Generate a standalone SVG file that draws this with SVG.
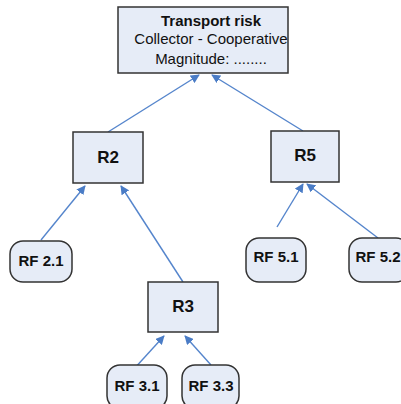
<svg xmlns="http://www.w3.org/2000/svg" width="401" height="404" viewBox="0 0 401 404">
<defs>
<style>
.box{fill:#E6ECF7;stroke:#333333;stroke-width:1.5}
.t{font-family:"Liberation Sans",Arial,sans-serif;fill:#111;text-anchor:middle}
.b{font-weight:bold}
.c{stroke:#5585CC;stroke-width:1.4;fill:none;marker-end:url(#ah)}
</style>
<marker id="ah" viewBox="0 0 10 10" refX="9" refY="5" markerWidth="9" markerHeight="9" markerUnits="userSpaceOnUse" orient="auto">
<path d="M0,0 L10,5 L0,10 z" fill="#4A7CC6"/>
</marker>
</defs>
<rect width="401" height="404" fill="#ffffff"/>
<g id="connectors">
<line class="c" x1="108" y1="132" x2="199" y2="75"/>
<line class="c" x1="303" y1="131" x2="212" y2="75"/>
<line class="c" x1="41" y1="240" x2="85" y2="186"/>
<line class="c" x1="183" y1="282" x2="121" y2="186"/>
<line class="c" x1="277" y1="227" x2="303" y2="184"/>
<line class="c" x1="378" y1="238" x2="307" y2="184"/>
<line class="c" x1="133" y1="370" x2="164" y2="336"/>
<line class="c" x1="211" y1="365" x2="185" y2="336"/>
</g>
<g id="transport-risk">
<rect class="box" x="118" y="7" width="170" height="66"/>
<text class="t b" x="211" y="26" font-size="15">Transport risk</text>
<text class="t" x="211" y="44" font-size="15">Collector - Cooperative</text>
<text class="t" x="211" y="64" font-size="15">Magnitude: ........</text>
</g>
<g id="R2">
<rect class="box" x="73" y="132" width="70" height="51"/>
<text class="t b" x="108" y="163" font-size="17">R2</text>
</g>
<g id="R5">
<rect class="box" x="271" y="131" width="68" height="51"/>
<text class="t b" x="305" y="161" font-size="17">R5</text>
</g>
<g id="R3">
<rect class="box" x="148" y="282" width="70" height="50"/>
<text class="t b" x="183" y="312" font-size="17">R3</text>
</g>
<g id="RF2.1">
<rect class="box" x="10" y="241" width="62" height="41" rx="13"/>
<text class="t b" x="41" y="266" font-size="15">RF 2.1</text>
</g>
<g id="RF5.1">
<rect class="box" x="246" y="238" width="60" height="44" rx="13"/>
<text class="t b" x="276" y="262" font-size="15">RF 5.1</text>
</g>
<g id="RF5.2">
<rect class="box" x="349" y="238" width="60" height="44" rx="13"/>
<text class="t b" x="378" y="262" font-size="15">RF 5.2</text>
</g>
<g id="RF3.1">
<rect class="box" x="107" y="365" width="60" height="44" rx="13"/>
<text class="t b" x="137" y="391" font-size="15">RF 3.1</text>
</g>
<g id="RF3.3">
<rect class="box" x="182" y="365" width="57" height="44" rx="13"/>
<text class="t b" x="211" y="391" font-size="15">RF 3.3</text>
</g>
</svg>
